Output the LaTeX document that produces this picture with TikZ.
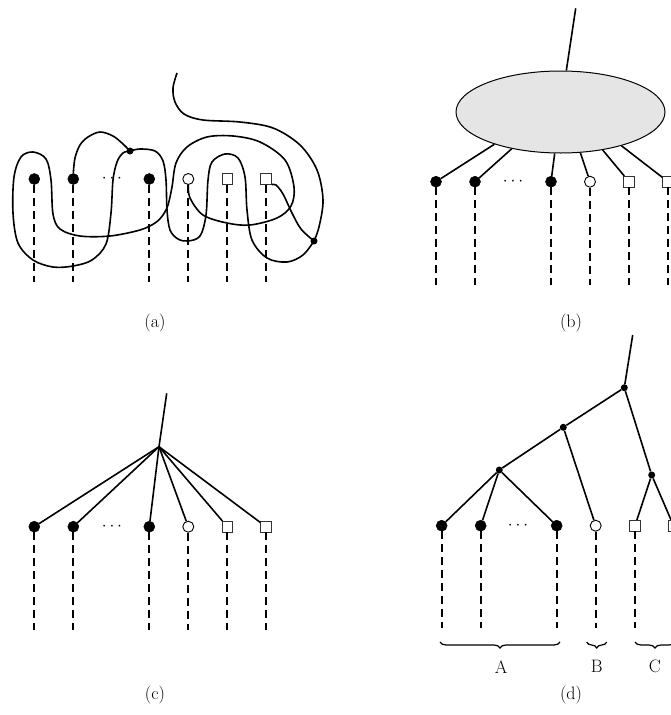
\documentclass[tikz,border=0pt]{standalone}
\usetikzlibrary{shapes.geometric,decorations.pathreplacing}
\tikzset{
 fdot/.style={circle, fill=black, draw=black, line width=0.5pt, minimum size=11pt, inner sep=0pt},
 odot/.style={circle, fill=white, draw=black, line width=0.9pt, minimum size=11pt, inner sep=0pt},
 sqr/.style={rectangle, fill=white, draw=black!80, line width=0.9pt, minimum size=10.5pt, inner sep=0pt},
 jdot/.style={circle, fill=black, minimum size=7pt, inner sep=0pt},
 wire/.style={line width=1.6pt},
 leg/.style={line width=2pt, dash pattern=on 8pt off 5pt},
 lbl/.style={font=\fontsize{18}{22}\selectfont, inner sep=0pt},
 dotsl/.style={font=\fontsize{17}{20}\selectfont, inner sep=0pt},
 br/.style={decorate, decoration={brace, mirror, amplitude=6pt}, line width=1.2pt},
 blob/.style={ellipse, draw=black, fill=black!10, line width=1pt, minimum width=209pt, minimum height=82pt, inner sep=0pt}
}
\begin{document}
\begin{tikzpicture}[x=1pt, y=-1pt]
\useasboundingbox (0,0) rectangle (671,715);
\clip (0,0) rectangle (671,715);

% ---------------- (a) ----------------
\node[fdot] (a1) at (34.3,179) {};
\node[fdot] (a2) at (73.3,179) {};
\node[fdot] (a3) at (149.3,179) {};
\node[odot] (a4) at (188.3,179) {};
\node[sqr]  (a5) at (227.3,179) {};
\node[sqr]  (a6) at (266,179) {};
\node[dotsl] (adots) at (112,179) {$\cdots$};
\foreach \i/\x in {1/34.3,2/73.3,3/149.3,4/188.3,5/227.3,6/266}
  \coordinate (a\i e) at (\x,282);
\foreach \i in {1,...,6}
  \draw[leg] (a\i.south) -- (a\i e);
\node[jdot] (j1) at (130,151) {};
\node[jdot] (j2) at (314,241) {};
\coordinate (atop) at (177,73);

\draw[wire] plot[smooth, tension=0.55] coordinates {(a2.north) (75,158) (80,145) (88,137) (100,132) (113,136) (123,144) (j1)};
\draw[wire] plot[smooth, tension=0.55] coordinates {(j1) (140,149) (155,151) (163,161) (166,180) (167,210) (170,230) (178,239) (188,241) (200,236) (206,215) (208,180) (212,162) (225,154) (238,158) (245,177) (247,210) (252,240) (267,258) (287,262) (303,255) (j2)};
\draw[wire] plot[smooth, tension=0.55] coordinates {(a6.south east) (276,185) (283,194) (292,213) (301,229) (j2)};
\draw[wire] plot[smooth, tension=0.55] coordinates {(j2) (319,227) (323,200) (317,170) (300,145) (273,128) (240,122) (203,120) (184,114) (175,102) (173,88) (atop)};
\draw[wire] plot[smooth, tension=0.55] coordinates {(a4.south) (190,198) (203,215) (227,223) (250,225) (277,218) (291,206) (294,187) (285,160) (260,142) (233,136) (207,137) (187,147) (176,163) (172,187) (168,205) (163,215) (155,223) (140,230) (110,236) (80,236) (60,229) (53,214) (51,180) (46,159) (33,152) (21,157) (14,177) (13,213) (18,243) (33,260) (53,267) (73,266) (92,260) (106,244) (111,213) (113,180) (117,162) (123,153) (j1)};

\node[lbl] (la) at (155,323) {(a)};

% ---------------- (b) ----------------
\node[blob] (E) at (560.5,112) {};
\coordinate (btop) at (575.7,8.3);
\draw[wire] (E.82.8) -- (btop);
\node[fdot] (b1) at (436,181.7) {};
\node[fdot] (b2) at (475,181.7) {};
\node[fdot] (b3) at (551,181.7) {};
\node[odot] (b4) at (590,181.7) {};
\node[sqr]  (b5) at (629,181.7) {};
\node[sqr]  (b6) at (668,181.7) {};
\node[dotsl] (bdots) at (513,181.7) {$\cdots$};
\foreach \i/\x in {1/436,2/475,3/551,4/590,5/629,6/668}
  \coordinate (b\i e) at (\x,285);
\foreach \i in {1,...,6}
  \draw[leg] (b\i.south) -- (b\i e);
\draw[wire] (b1) -- (E.-154.2);
\draw[wire] (b2) -- (E.-143.8);
\draw[wire] (b3) -- (E.-98.6);
\draw[wire] (b4) -- (E.-64.4);
\draw[wire] (b5) -- (E.-42.3);
\draw[wire] (b6) -- (E.-29.5);
\node[lbl] (lb) at (571,323) {(b)};

% ---------------- (c) ----------------
\coordinate (c0) at (159,446.7);
\coordinate (ctop) at (166.7,393.3);
\draw[wire] (c0) -- (ctop);
\node[fdot] (c1) at (34.3,526.7) {};
\node[fdot] (c2) at (73.3,526.7) {};
\node[fdot] (c3) at (149.3,526.7) {};
\node[odot] (c4) at (188.3,526.7) {};
\node[sqr]  (c5) at (227.3,526.7) {};
\node[sqr]  (c6) at (266,526.7) {};
\node[dotsl] (cdots) at (112,526.7) {$\cdots$};
\foreach \i/\x in {1/34.3,2/73.3,3/149.3,4/188.3,5/227.3,6/266}
  \coordinate (c\i e) at (\x,630);
\foreach \i in {1,...,6} {
  \draw[leg] (c\i.south) -- (c\i e);
  \draw[wire] (c0) -- (c\i);
}
\node[lbl] (lc) at (155,695) {(c)};

% ---------------- (d) ----------------
\node[jdot] (r0) at (624.3,387.7) {};
\node[jdot] (r1) at (563.3,427.3) {};
\node[jdot] (r2) at (499.3,470) {};
\node[jdot] (r3) at (651.7,475) {};
\coordinate (dtop) at (632.7,335);
\node[fdot] (d1) at (441.7,525.7) {};
\node[fdot] (d2) at (480.7,525.7) {};
\node[fdot] (d3) at (556.7,525.7) {};
\node[odot] (d4) at (595.7,525.7) {};
\node[sqr]  (d5) at (635,525.7) {};
\node[sqr]  (d6) at (673.5,525.7) {};
\node[dotsl] (ddots) at (518,525.7) {$\cdots$};
\foreach \i/\x in {1/441.7,2/480.7,3/556.7,4/595.7,5/635,6/673.5}
  \coordinate (d\i e) at (\x,628.3);
\foreach \i in {1,...,6}
  \draw[leg] (d\i.south) -- (d\i e);
\draw[wire] (r0) -- (dtop);
\draw[wire] (r0) -- (r1);
\draw[wire] (r0) -- (r3);
\draw[wire] (r1) -- (r2);
\draw[wire] (r1) -- (d4);
\draw[wire] (r2) -- (d1);
\draw[wire] (r2) -- (d2);
\draw[wire] (r2) -- (d3);
\draw[wire] (r3) -- (d5);
\draw[wire] (r3) -- (d6);
\coordinate (bA1) at (440,642);
\coordinate (bA2) at (560,642);
\coordinate (bB1) at (586.7,642);
\coordinate (bB2) at (606.7,642);
\coordinate (bC1) at (635,642);
\coordinate (bC2) at (675,642);
\draw[br] (bA1) -- (bA2);
\draw[br] (bB1) -- (bB2);
\draw[br] (bC1) -- (bC2);
\node[lbl] (lA) at (501,666.7) {A};
\node[lbl] (lB) at (596.7,666.7) {B};
\node[lbl] (lC) at (655,666.7) {C};
\node[lbl] (ld) at (571,695) {(d)};
\end{tikzpicture}
\end{document}
